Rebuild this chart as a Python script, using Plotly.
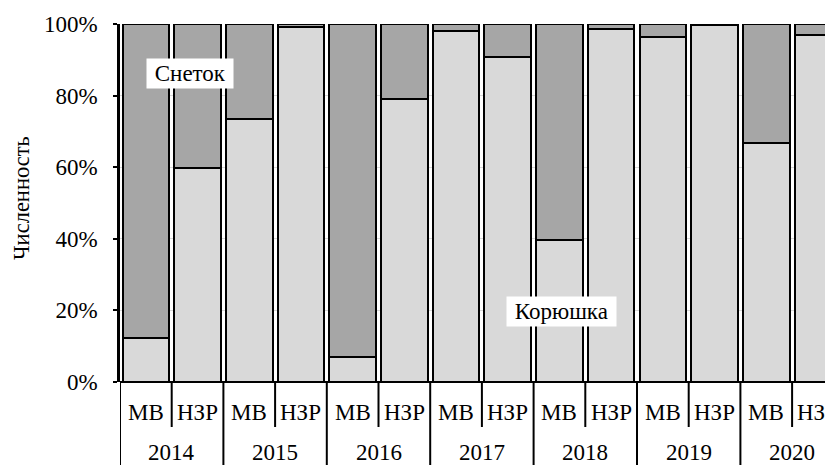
import plotly.graph_objects as go

years = ["2014", "2015", "2016", "2017", "2018", "2019", "2020"]
sites = ["МВ", "НЗР"]
koryushka = [12.2, 59.7, 73.5, 99.2, 7.1, 79.0, 98.1, 90.7, 39.7, 98.5, 96.5, 99.6, 66.8, 96.9]
snetok = [round(100 - v, 1) for v in koryushka]
series_names = ["Корюшка", "Снеток"]
y_ticks = [0, 20, 40, 60, 80, 100]
y_tick_text = [f"{v}%" for v in y_ticks]

n = len(koryushka)
xs = list(range(n))
bar_labels = [s for _ in years for s in sites]

FONT = "'Times New Roman', 'Liberation Serif', Tinos, serif"
FS = 23

OFF = 8
L = 120 - OFF
T = 24 - OFF
BOT = 382 - OFF
W, H = 833, 465
PH = float(BOT - T)
PW = float(W - L)
CAT = 51.7

fig = go.Figure()
fig.add_bar(x=xs, y=koryushka, name=series_names[0], width=0.9,
            marker=dict(color="#d9d9d9", line=dict(color="black", width=2)),
            customdata=bar_labels)
fig.add_bar(x=xs, y=snetok, name=series_names[1], width=0.9,
            marker=dict(color="#a6a6a6", line=dict(color="black", width=2)),
            customdata=bar_labels)

def py(pix_below):
    return -pix_below / PH

shapes = []
shapes.append(dict(type="line", xref="paper", yref="paper", x0=0, x1=1, y0=0, y1=0,
                   line=dict(color="black", width=2)))
for i in range(n + 1):
    xb = i - 0.5
    long_div = (i % 2 == 0)
    shapes.append(dict(type="line", xref="x", yref="paper", x0=xb, x1=xb,
                       y0=0, y1=py(95 if long_div else 45),
                       line=dict(color="black", width=2)))

annotations = []
for i, lab in enumerate(bar_labels):
    annotations.append(dict(x=i, y=py(30), xref="x", yref="paper", text=lab,
                            showarrow=False, font=dict(family=FONT, size=FS, color="black"),
                            xanchor="center", yanchor="middle"))
for j, yr in enumerate(years):
    annotations.append(dict(x=2 * j + 0.5, y=py(70), xref="x", yref="paper", text=yr,
                            showarrow=False, font=dict(family=FONT, size=FS, color="black"),
                            xanchor="center", yanchor="middle"))
annotations.append(dict(x=0.85, y=86.2, xref="x", yref="y", text="&nbsp;Снеток&nbsp;",
                        showarrow=False, bgcolor="white", borderpad=2,
                        xanchor="center", yanchor="middle",
                        font=dict(family=FONT, size=FS, color="black")))
annotations.append(dict(x=8.03, y=19.8, xref="x", yref="y", text="&nbsp;Корюшка&nbsp;",
                        showarrow=False, bgcolor="white", borderpad=2,
                        xanchor="center", yanchor="middle",
                        font=dict(family=FONT, size=FS, color="black")))
annotations.append(dict(x=-(120 - 21) / PW, y=(382 - 198) / PH, xref="paper", yref="paper",
                        text="Численность", textangle=-90, showarrow=False,
                        xanchor="center", yanchor="middle",
                        font=dict(family=FONT, size=22.5, color="black")))

fig.update_layout(
    barmode="stack",
    width=W, height=H,
    margin=dict(l=L, r=0, t=T, b=H - BOT, autoexpand=False),
    paper_bgcolor="white", plot_bgcolor="white",
    showlegend=False,
    font=dict(family=FONT, size=FS, color="black"),
    shapes=shapes,
    annotations=annotations,
    xaxis=dict(range=[-0.5, -0.5 + PW / CAT], showticklabels=False, showgrid=False,
               zeroline=False, showline=False, ticks=""),
    yaxis=dict(range=[0, 100], tickmode="array", tickvals=y_ticks, ticktext=y_tick_text,
               showline=True, linecolor="black", linewidth=2.5,
               ticks="outside", ticklen=4, tickwidth=2, tickcolor="black",
               ticklabelstandoff=11, automargin=False,
               showgrid=True, gridcolor="#d9d9d9", gridwidth=1, zeroline=False,
               tickfont=dict(family=FONT, size=FS, color="black")),
)

fig.write_html("out.html")
